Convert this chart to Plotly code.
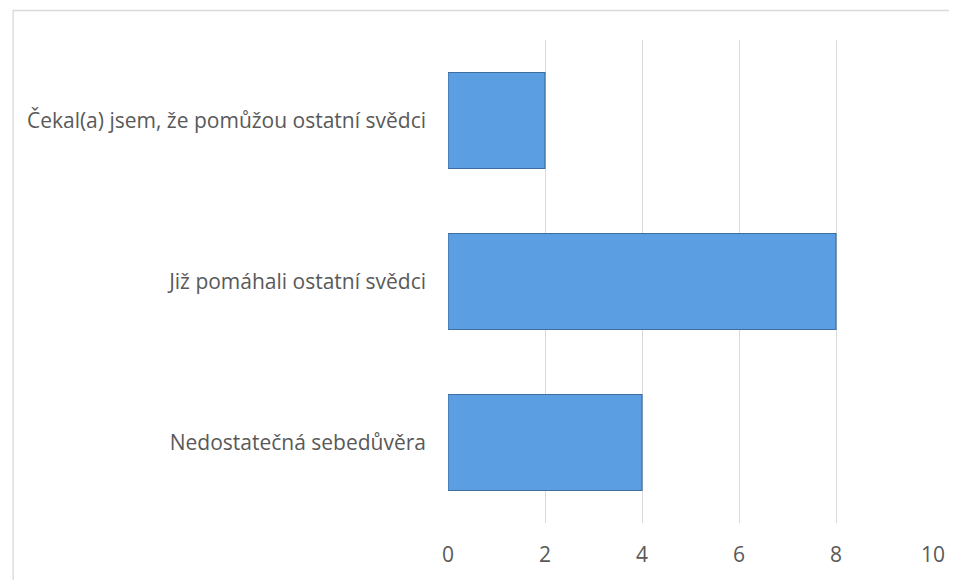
import plotly.graph_objects as go

categories = ["Nedostatečná sebedůvěra", "Již pomáhali ostatní svědci", "Čekal(a) jsem, že pomůžou ostatní svědci"]
values = [4, 8, 2]
x_ticks = [0, 2, 4, 6, 8, 10]

# page body has an 8px margin, so the figure is drawn from (8, 8)
OFF = 8
W, H = 957 - OFF, 580 - OFF
L, R, T, B = 448 - OFF, 19, 40 - OFF, 57
pw, ph = W - L - R, H - T - B

fig = go.Figure()
fig.add_trace(go.Bar(
    y=categories, x=values, orientation="h",
    marker=dict(color="#5B9FE2", line=dict(color="#3E6E9E", width=1.2)),
    hoverinfo="x+y",
))

fig.update_layout(
    width=W, height=H,
    margin=dict(l=L, r=R, t=T, b=B),
    paper_bgcolor="white", plot_bgcolor="white",
    bargap=0.404,
    showlegend=False,
    font=dict(family="Open Sans, sans-serif", color="#595959", size=21),
    xaxis=dict(range=[0, 10], tickvals=x_ticks, showgrid=True, gridcolor="#D9D9D9",
               gridwidth=1.3, zeroline=False, showline=False, ticks="",
               ticklabelstandoff=17, tickfont=dict(size=21)),
    yaxis=dict(showgrid=False, zeroline=False, showline=False, ticks="",
               ticklabelstandoff=21, tickfont=dict(size=21)),
)

# chart area border (Excel-style), extending past the right/bottom edges
fig.add_shape(type="rect", xref="paper", yref="paper",
              x0=(0.7 - L) / pw, x1=(W + 5 - L) / pw,
              y0=-(B + 5) / ph, y1=(ph + T - 2.5) / ph,
              line=dict(color="#D9D9D9", width=1.3), fillcolor="rgba(0,0,0,0)", layer="below")

fig.write_html("out.html")
